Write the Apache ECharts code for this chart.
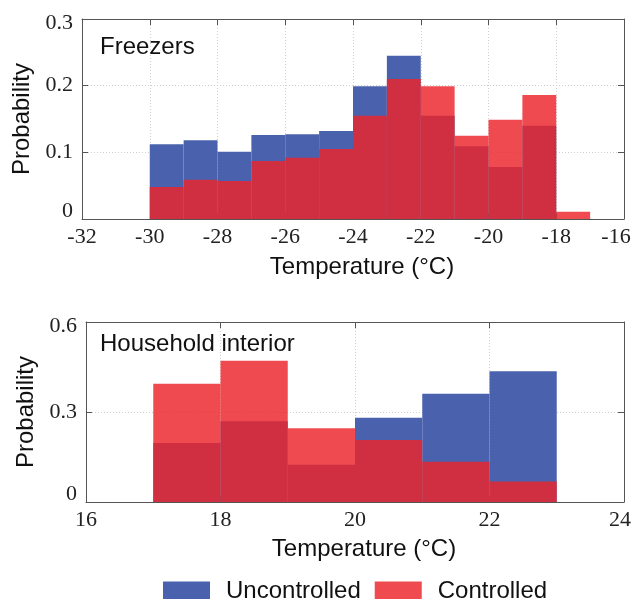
<!DOCTYPE html>
<html>
<head>
<meta charset="utf-8">
<script src="https://cdn.jsdelivr.net/npm/echarts@6/dist/echarts.min.js"></script>
<style>
  html, body { margin: 0; padding: 0; background: #fff; }
  #main { width: 633px; height: 599px; }
</style>
</head>
<body>
<div id="main"></div>
<script>
// bin starts (1 °C wide bins)
var freezerBins = [-30, -29, -28, -27, -26, -25, -24, -23, -22, -21, -20, -19, -18];
var freezerUncontrolled = [0.112, 0.118, 0.101, 0.126, 0.127, 0.132, 0.199, 0.245, 0.155, 0.109, 0.078, 0.140, 0];
var freezerControlled = [0.048, 0.059, 0.057, 0.087, 0.092, 0.105, 0.155, 0.210, 0.199, 0.125, 0.149, 0.186, 0.011];

var householdBins = [17, 18, 19, 20, 21, 22];
var householdUncontrolled = [0.197, 0.269, 0.124, 0.281, 0.361, 0.436];
var householdControlled = [0.394, 0.471, 0.246, 0.207, 0.134, 0.068];

var binWidth = 1;

var blue = '#4a62ad';
var red = 'rgb(236,37,44)';
var serif = 'Liberation Serif';
var sans = 'Liberation Sans';

function toBins(starts, vals) {
	var out = [];
	for (var i = 0; i < starts.length; i++) {
		out.push([starts[i], starts[i] + binWidth, vals[i]]);
	}
	return out;
}

// returns a renderItem that draws each bin as a rect through the axis scales
function binRenderer(color, opacity) {
	return function (params, api) {
		var p0 = api.coord([api.value(0), api.value(2)]);
		var p1 = api.coord([api.value(1), 0]);
		return {
			type: 'rect',
			shape: { x: p0[0], y: p0[1], width: p1[0] - p0[0], height: p1[1] - p0[1] },
			style: { fill: color, opacity: opacity }
		};
	};
}

var myChart = echarts.init(document.getElementById('main'));

var lineStyle = { color: '#555', width: 1 };
var tickStyle = { show: true, inside: true, length: 6, lineStyle: lineStyle };

function mainX(grid, min, max, lastPad) {
	return {
		type: 'value', gridIndex: grid, min: min, max: max, interval: 2, position: 'bottom',
		axisLine: { show: true, onZero: false, lineStyle: lineStyle },
		axisTick: tickStyle,
		axisLabel: {
			fontFamily: serif, fontSize: 22, color: '#222', margin: 7,
			// last label is pushed left so it stays inside the picture
			formatter: function (v) { return v === max ? '{last|' + v + '}' : String(v); },
			rich: { last: { fontFamily: serif, fontSize: 22, color: '#222', padding: [0, lastPad, 0, 0] } }
		},
		splitLine: { show: true, lineStyle: { color: '#cfcfcf', type: [1, 2] } },
		name: 'Temperature (°C)', nameLocation: 'middle', nameGap: grid === 0 ? 36 : 35,
		nameTextStyle: { fontFamily: sans, fontSize: 24, color: '#111', padding: [0, 0, 0, 18] }
	};
}
function topX(grid, min, max) {
	return {
		type: 'value', gridIndex: grid, min: min, max: max, interval: 2, position: 'top',
		axisLine: { show: true, onZero: false, lineStyle: lineStyle },
		axisTick: tickStyle, axisLabel: { show: false }, splitLine: { show: false }
	};
}
function mainY(grid, max, interval, gap) {
	return {
		type: 'value', gridIndex: grid, min: 0, max: max, interval: interval, position: 'left',
		axisLine: { show: true, onZero: false, lineStyle: lineStyle },
		axisTick: tickStyle,
		axisLabel: {
			fontFamily: serif, fontSize: 22, color: '#222', margin: 9,
			formatter: function (v) {
				if (v === 0) return '{lo|0}';
				if (v === max) return '{hi|' + v + '}';
				return String(v);
			},
			rich: {
				lo: { fontFamily: serif, fontSize: 22, color: '#222', padding: [0, 0, 16, 0] },
				hi: { fontFamily: serif, fontSize: 22, color: '#222', padding: [8, 0, 0, 0] }
			}
		},
		splitLine: { show: true, lineStyle: { color: '#cfcfcf', type: [1, 2] } },
		name: 'Probability', nameLocation: 'middle', nameGap: gap,
		nameTextStyle: { fontFamily: sans, fontSize: 24, color: '#111' }
	};
}
function rightY(grid, max, interval) {
	return {
		type: 'value', gridIndex: grid, min: 0, max: max, interval: interval, position: 'right',
		axisLine: { show: true, onZero: false, lineStyle: lineStyle },
		axisTick: tickStyle, axisLabel: { show: false }, splitLine: { show: false }
	};
}

function binSeries(name, grid, data, color, opacity, z) {
	return {
		name: name, type: 'custom', xAxisIndex: grid * 2, yAxisIndex: grid * 2,
		renderItem: binRenderer(color, opacity), encode: { x: [0, 1], y: 2 },
		itemStyle: { color: color }, z: z, clip: true,
		data: data
	};
}

var titleText = { fontFamily: sans, fontSize: 24, fontWeight: 'normal', color: '#111' };

var option = {
	animation: false,
	backgroundColor: '#fff',
	title: [
		{ text: 'Freezers', left: 100, top: 35, padding: 0, textStyle: titleText },
		{ text: 'Household interior', left: 100, top: 332, padding: 0, textStyle: titleText }
	],
	legend: {
		left: 163, top: 579, padding: 0, itemWidth: 47, itemHeight: 19, itemGap: 14,
		textStyle: { fontFamily: sans, fontSize: 24, color: '#111', padding: [0, 0, 0, 11] },
		data: [
			{ name: 'Uncontrolled', icon: 'rect', itemStyle: { color: blue, opacity: 1 } },
			{ name: 'Controlled', icon: 'rect', itemStyle: { color: '#ef4a50', opacity: 1 } }
		]
	},
	grid: [
		{ left: 82, right: 9, top: 19, height: 200, outerBoundsMode: 'none' },
		{ left: 86, right: 9, top: 322, height: 180, outerBoundsMode: 'none' }
	],
	xAxis: [mainX(0, -32, -16, 16), topX(0, -32, -16), mainX(1, 16, 24, 8), topX(1, 16, 24)],
	yAxis: [mainY(0, 0.3, 0.1, 42), rightY(0, 0.3, 0.1), mainY(1, 0.6, 0.3, 47), rightY(1, 0.6, 0.3)],
	series: [
		binSeries('Uncontrolled', 0, toBins(freezerBins, freezerUncontrolled), blue, 1, 2),
		binSeries('Controlled', 0, toBins(freezerBins, freezerControlled), red, 0.83, 3),
		binSeries('Uncontrolled', 1, toBins(householdBins, householdUncontrolled), blue, 1, 2),
		binSeries('Controlled', 1, toBins(householdBins, householdControlled), red, 0.83, 3)
	]
};

myChart.setOption(option);
</script>
</body>
</html>
